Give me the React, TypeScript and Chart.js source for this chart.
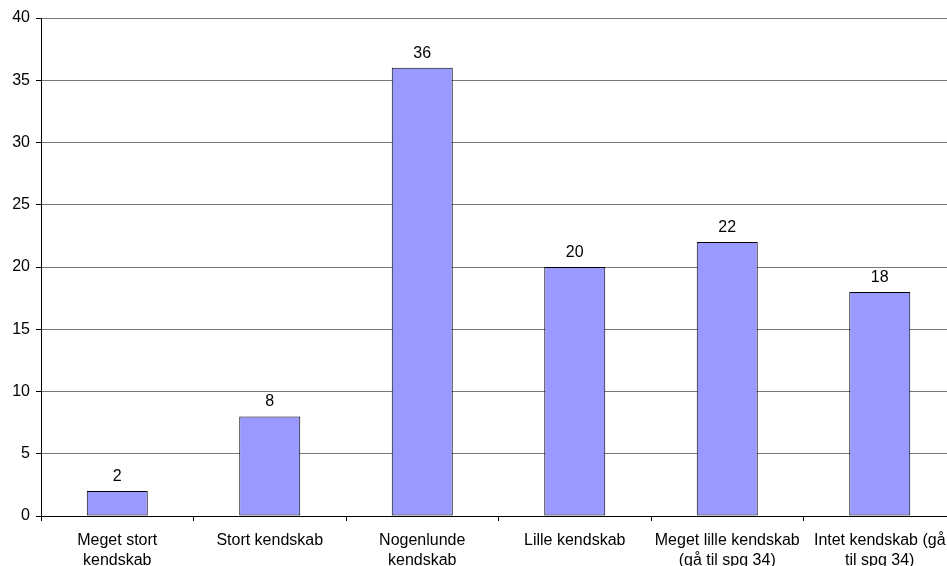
import React, { useEffect, useRef } from "react";
import { Chart, registerables } from "chart.js";

Chart.register(...registerables);

// Survey answers: level of knowledge
const categories: (string | string[])[] = [
  ["Meget stort", "kendskab"],
  "Stort kendskab",
  ["Nogenlunde", "kendskab"],
  "Lille kendskab",
  ["Meget lille kendskab", "(gå til spg 34)"],
  ["Intet kendskab (gå", "til spg 34)"],
];
const counts: number[] = [2, 8, 36, 20, 22, 18];
const yMin = 0;
const yMax = 40;
const yStep = 5;

const FONT = '"Liberation Sans", Arial, Helvetica, sans-serif';

// Writes each bar's value just above it
const valueLabels = {
  id: "valueLabels",
  afterDatasetsDraw(chart: any) {
    const ctx = chart.ctx;
    const meta = chart.getDatasetMeta(0);
    const data = chart.data.datasets[0].data as number[];
    ctx.save();
    ctx.font = `16px ${FONT}`;
    ctx.fillStyle = "#000";
    ctx.textAlign = "center";
    ctx.textBaseline = "alphabetic";
    meta.data.forEach((bar: any, i: number) => {
      ctx.fillText(String(data[i]), bar.x, bar.y - 10);
    });
    ctx.restore();
  },
};

export default function App() {
  const canvasRef = useRef<HTMLCanvasElement | null>(null);

  useEffect(() => {
    const canvas = canvasRef.current;
    if (!canvas) return;
    const chart = new Chart(canvas, {
      type: "bar",
      data: {
        labels: categories,
        datasets: [
          {
            data: counts,
            backgroundColor: "#9999FF",
            borderColor: "#000000",
            borderWidth: 1,
            borderSkipped: false,
            categoryPercentage: 1,
            barPercentage: 0.4,
          },
        ],
      },
      options: {
        responsive: false,
        animation: false,
        events: [],
        layout: { padding: { top: 18, left: 0, right: 0, bottom: 0 } },
        plugins: {
          legend: { display: false },
          tooltip: { enabled: false },
        },
        scales: {
          x: {
            offset: true,
            grid: {
              offset: true,
              drawOnChartArea: false,
              drawTicks: true,
              tickLength: 5,
              tickColor: "#000",
            },
            border: { color: "#000", width: 1 },
            ticks: {
              autoSkip: false,
              maxRotation: 0,
              minRotation: 0,
              padding: 10,
              color: "#000",
              font: { family: FONT, size: 16, lineHeight: 1.25 },
            },
            afterFit(scale: any) {
              scale.height = 50;
            },
          },
          y: {
            min: yMin,
            max: yMax,
            grid: {
              color: "#787878",
              drawTicks: true,
              tickLength: 5,
              tickColor: "#000",
            },
            border: { color: "#000", width: 1 },
            ticks: {
              stepSize: yStep,
              padding: 6,
              color: "#000",
              font: { family: FONT, size: 16 },
            },
            afterFit(scale: any) {
              scale.width = 41;
            },
          },
        },
      },
      plugins: [valueLabels],
    });
    return () => chart.destroy();
  }, []);

  return (
    <div
      style={{
        position: "absolute",
        left: 0,
        top: 0,
        width: 947,
        height: 566,
        overflow: "hidden",
        background: "#fff",
      }}
    >
      <canvas ref={canvasRef} width={956} height={566} style={{ display: "block" }} />
    </div>
  );
}
